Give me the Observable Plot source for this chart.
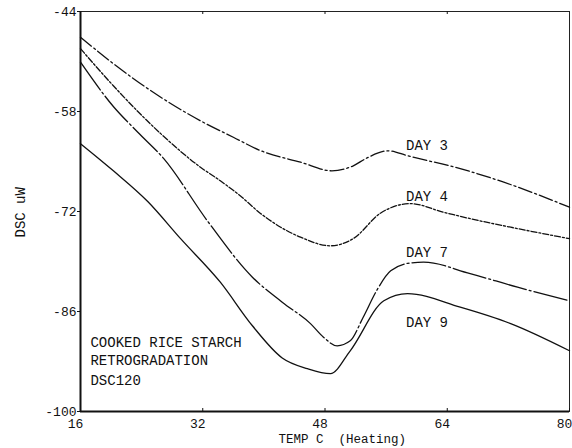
<!DOCTYPE html>
<html>
<head>
<meta charset="utf-8">
<script src="https://cdn.jsdelivr.net/npm/d3@7"></script>
<script src="https://cdn.jsdelivr.net/npm/@observablehq/plot@0.6"></script>
<style>
  html, body { margin: 0; padding: 0; background: #fff; }
  #chart svg { display: block; }
</style>
</head>
<body>
<div id="chart"></div>
<script>
// DSC heating scans of retrograded cooked rice starch, by storage day
const xTicks = [16, 32, 48, 64, 80];
const yTicks = [-44, -58, -72, -86, -100];

const day3Temp = [16, 20.3, 26.5, 31.7, 36, 39.6, 44.8, 48.9, 51.7, 53.5, 56.3, 58.8, 65.7, 71.4, 80];
const day3Dsc  = [-47.6, -51.3, -56, -59.3, -61.6, -63.5, -65.1, -66.3, -65.6, -64.5, -63.5, -64.2, -66, -67.9, -71.4];

const day4Temp = [16, 20.3, 26.5, 31.7, 34.3, 36.9, 39.6, 42.2, 44.8, 48.7, 51.7, 55.3, 59.2, 63.5, 67, 72.3, 80];
const day4Dsc  = [-49.2, -54.4, -61.1, -65.8, -67.7, -69.8, -72.3, -74.2, -75.6, -76.8, -75.8, -72.2, -70.9, -72.1, -73, -74.2, -75.8];

const day7Temp = [16, 20.3, 23.5, 26.9, 32.6, 38.5, 42.4, 46.1, 47.8, 49.6, 51.3, 53, 54.8, 56.6, 59.2, 60.9, 67, 73.2, 80];
const day7Dsc  = [-51.1, -57.3, -60.9, -64.6, -73.3, -81.2, -84.7, -87.7, -89.6, -90.8, -90.1, -86.8, -83, -80.3, -79.2, -79.1, -80.7, -82.6, -84.5];

const day9Temp = [16, 20.3, 24.8, 29.1, 34.3, 38.5, 42.4, 45.7, 48.7, 51.3, 55.7, 58.8, 65.7, 72.3, 80];
const day9Dsc  = [-62.5, -66.3, -70.6, -75.8, -81.9, -88, -92.5, -94, -94.7, -91.5, -84.5, -83.5, -85.4, -87.7, -91.5];

const seriesNames = ["DAY 3", "DAY 4", "DAY 7", "DAY 9"];
const seriesDash = ["14,3,2,3", "6,2,2,2", "34,3,2,3", null];
const labelTemp = [58.6, 58.6, 58.6, 58.6];
const labelDsc  = [-62.8, -69.9, -77.7, -87.5];

const noteLines = ["COOKED RICE STARCH", "RETROGRADATION", "DSC120"];
const noteTemp = 17.3;
const noteDsc = [-90.4, -92.9, -95.6];

const xTitle = "TEMP C\u00a0\u00a0(Heating)";
const yTitle = "DSC uW";

const temps = [day3Temp, day4Temp, day7Temp, day9Temp];
const dscs = [day3Dsc, day4Dsc, day7Dsc, day9Dsc];
const curves = seriesNames.map((name, i) =>
  temps[i].map((t, j) => ({series: name, temp: t, dsc: dscs[i][j]}))
);

const font = "'Liberation Mono', 'DejaVu Sans Mono', monospace";

const chart = Plot.plot({
  width: 572,
  height: 448,
  marginLeft: 80,
  marginRight: 3,
  marginTop: 11,
  marginBottom: 37,
  style: {fontFamily: font, fontSize: "14px", color: "#111", background: "#fff"},
  x: {domain: [16, 80]},
  y: {domain: [-100, -44]},
  marks: [
    Plot.frame({stroke: "#222", strokeWidth: 1}),
    Plot.ruleX([16], {stroke: "#111", strokeWidth: 2}),
    Plot.ruleY([-100], {stroke: "#111", strokeWidth: 2}),
    Plot.axisY({ticks: yTicks, tickSize: 3, tickPadding: 1, tickFormat: d => String(d), label: null, fontSize: 13}),
    Plot.axisX({ticks: xTicks, tickSize: 0, tickPadding: 7.5, dx: -5, tickFormat: d => String(d), label: null, fontSize: 13}),
    Plot.tickX(xTicks, {x: d => d, insetTop: 397, stroke: "#111"}),
    Plot.tickX(xTicks.slice(1, -1), {x: d => d, insetBottom: 397, stroke: "#111"}),
    ...curves.map((c, i) =>
      Plot.line(c, {x: "temp", y: "dsc", curve: "monotone-x", stroke: "#111", strokeWidth: 1.3,
        strokeDasharray: seriesDash[i]})
    ),
    Plot.text(seriesNames, {x: (d, i) => labelTemp[i], y: (d, i) => labelDsc[i], text: d => d,
      textAnchor: "start", fill: "#111", fontSize: 14}),
    Plot.text(noteLines, {x: noteTemp, y: (d, i) => noteDsc[i], text: d => d,
      textAnchor: "start", fill: "#111", fontSize: 14}),
    Plot.text([xTitle], {frameAnchor: "bottom-left", dx: 198, dy: 23, lineAnchor: "top", text: d => d,
      textAnchor: "start", fill: "#111", fontSize: 12.5}),
    Plot.text([yTitle], {frameAnchor: "left", dx: -60, dy: 26, rotate: -90, text: d => d,
      fill: "#111", fontSize: 14})
  ]
});

document.getElementById("chart").appendChild(chart);
</script>
</body>
</html>
